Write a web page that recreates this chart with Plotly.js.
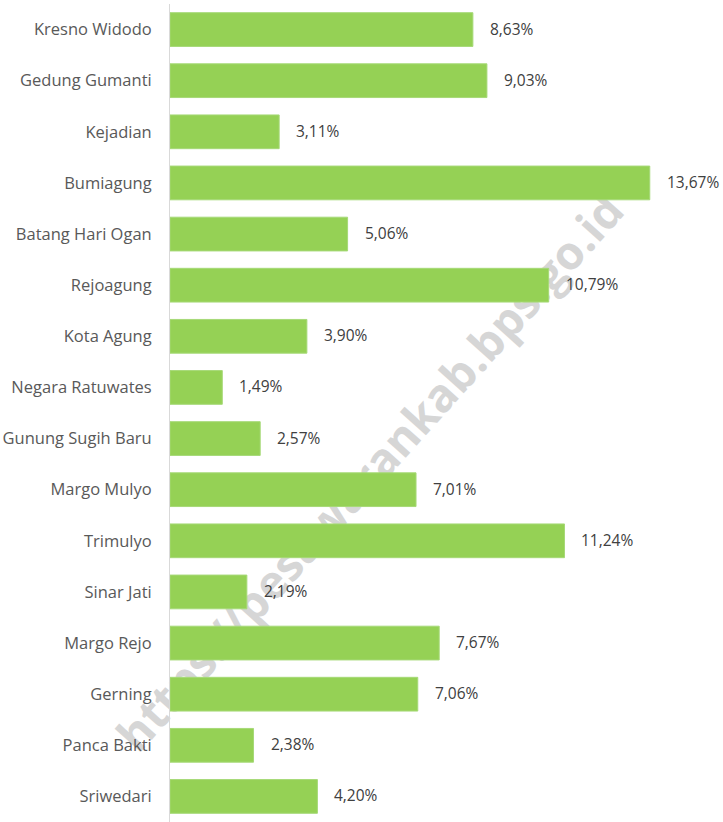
<!DOCTYPE html>
<html>
<head>
<meta charset="utf-8">
<script src="https://cdn.plot.ly/plotly-3.0.1.min.js"></script>
<style>html,body{margin:0;padding:0;background:#fff;}#chart{width:723px;height:822px;}</style>
</head>
<body>
<div id="chart"></div>
<script>
const categories = ["Kresno Widodo","Gedung Gumanti","Kejadian","Bumiagung","Batang Hari Ogan","Rejoagung","Kota Agung","Negara Ratuwates","Gunung Sugih Baru","Margo Mulyo","Trimulyo","Sinar Jati","Margo Rejo","Gerning","Panca Bakti","Sriwedari"];
const values = [8.63,9.03,3.11,13.67,5.06,10.79,3.90,1.49,2.57,7.01,11.24,2.19,7.67,7.06,2.38,4.20];
const valueLabels = values.map(v => v.toFixed(2).replace('.', ',') + '%');
const watermark = "https://pesawarankab.bps.go.id";

const font = "'Open Sans', 'Liberation Sans', sans-serif";

const trace = {
  type: 'bar',
  orientation: 'h',
  x: values,
  y: categories,
  marker: {color: '#95D155', line: {color: '#a6d977', width: 1}},
  width: 0.66,
  hoverinfo: 'none'
};

const annotations = values.map((v, i) => ({
  x: v, y: categories[i], xref: 'x', yref: 'y',
  text: valueLabels[i], showarrow: false,
  xanchor: 'left', xshift: 15, yshift: 1,
  font: {family: font, size: 15.5, color: '#404040'}
}));

const layout = {
  width: 723, height: 822,
  margin: {l: 170, r: 9, t: 4, b: 0},
  paper_bgcolor: '#ffffff', plot_bgcolor: '#ffffff',
  showlegend: false,
  xaxis: {range: [0, 15.5], visible: false, fixedrange: true},
  yaxis: {
    type: 'category', autorange: 'reversed',
    showline: true, linecolor: '#d9d9d9', linewidth: 1,
    showgrid: false, zeroline: false,
    ticks: '', ticklabelstandoff: 14,
    tickfont: {family: font, size: 16.5, color: '#595959'}
  },
  annotations: annotations,
  shapes: [{
    type: 'rect', xref: 'paper', yref: 'paper', layer: 'below',
    x0: 0.0, x1: 0.74, y0: 0.126, y1: 0.726,
    line: {width: 0}, fillcolor: 'rgba(0,0,0,0)',
    label: {text: watermark, textangle: -48, textposition: 'middle center',
            font: {family: "'Open Sans', sans-serif", size: 46, color: '#d6d6d6', weight: 'bold'}}
  }]
};

Plotly.newPlot('chart', [trace], layout, {displayModeBar: false, staticPlot: true});
</script>
</body>
</html>
